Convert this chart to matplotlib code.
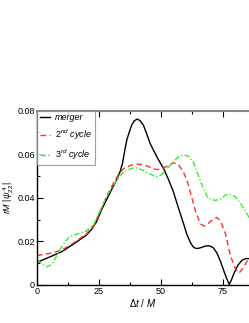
import numpy as np
import matplotlib
matplotlib.use("Agg")
import matplotlib.pyplot as plt
from matplotlib.ticker import MultipleLocator, FixedLocator, FixedFormatter

plt.rcParams['font.family'] = ['Liberation Sans', 'DejaVu Sans']
plt.rcParams['mathtext.fontset'] = 'custom'
plt.rcParams['mathtext.it'] = 'Liberation Sans:italic'
plt.rcParams['mathtext.rm'] = 'Liberation Sans'

# merger (black solid)
t_merger = [0, 5, 10, 15, 20, 22, 24, 26, 28, 30, 32, 33.5, 34.5, 35.4, 36.2,
            37.3, 38.2, 39.2, 40.4, 41.5, 42.9, 44.2, 45.6, 47, 48.3, 50, 51,
            53, 55, 57, 59, 60.5, 62, 63, 64, 65, 66.5, 68, 69.5, 71, 72.5, 74,
            75.5, 76.5, 77.5, 78.3, 79.5, 81, 82.5, 84, 86]
y_merger = [0.0104, 0.0128, 0.0153, 0.019, 0.023, 0.0255, 0.029, 0.0345, 0.039,
            0.0436, 0.048, 0.052, 0.056, 0.0618, 0.0665, 0.0705, 0.0734, 0.0753,
            0.0762, 0.0755, 0.0734, 0.0695, 0.065, 0.0618, 0.0589, 0.0555,
            0.0536, 0.0485, 0.0428, 0.0355, 0.0285, 0.023, 0.0192, 0.0175,
            0.0168, 0.0168, 0.0173, 0.0179, 0.018, 0.0172, 0.0148, 0.0108,
            0.006, 0.003, 0.0003, 0.002, 0.0055, 0.009, 0.0112, 0.0121, 0.0121]

# 2nd cycle (red dashed)
t_2nd = [0, 5, 10, 15, 20, 23, 25, 28, 30, 33, 35, 38, 40, 43, 45, 48, 50, 53,
         55, 57, 59, 60.5, 62, 64, 66, 67.5, 69, 71, 72.5, 74, 76, 78, 80,
         81.5, 83, 85, 86]
y_2nd = [0.0135, 0.0145, 0.016, 0.0195, 0.0235, 0.0275, 0.0325, 0.0405, 0.045,
         0.051, 0.0535, 0.055, 0.0555, 0.0552, 0.0543, 0.053, 0.0532, 0.0548,
         0.0561, 0.0553, 0.052, 0.048, 0.042, 0.0335, 0.028, 0.027, 0.0282,
         0.0302, 0.031, 0.0295, 0.0235, 0.0135, 0.0075, 0.0055, 0.0075, 0.0115,
         0.013]

# 3rd cycle (green dash-dot)
t_3rd = [0, 2, 4, 6, 8, 10, 13, 15, 17, 20, 23, 25, 28, 30, 33, 35, 38, 40, 43,
         45, 48, 50, 53, 55, 57, 59, 61, 63, 65, 67, 69, 72, 74, 76, 78, 80, 82,
         84, 86]
y_3rd = [0.0115, 0.0095, 0.0084, 0.0095, 0.0135, 0.0176, 0.0222, 0.023, 0.0237,
         0.0248, 0.028, 0.033, 0.0405, 0.0444, 0.0495, 0.052, 0.0535, 0.0538,
         0.0525, 0.0512, 0.0497, 0.0505, 0.054, 0.0566, 0.0588, 0.0597, 0.0592,
         0.0565, 0.0505, 0.0445, 0.0398, 0.0388, 0.0395, 0.0413, 0.0415, 0.0405,
         0.0375, 0.034, 0.030]

fig = plt.figure(figsize=(2.49, 3.23), dpi=100)
ax = fig.add_axes([37 / 249, 38 / 323, 1 - 37 / 249, 174.3 / 323])

ax.plot(t_merger, y_merger, color='black', lw=1.0, label='merger')
ax.plot(t_2nd, y_2nd, color='#ff3030', lw=1.0, ls=(0, (4, 2.5)),
        label=r'$2^{nd}$ cycle')
ax.plot(t_3rd, y_3rd, color='#33ee33', lw=1.0, ls=(0, (4, 1.5, 1, 1.5)),
        label=r'$3^{rd}$ cycle')

ax.set_xlim(0, 85.5)
ax.set_ylim(0, 0.08)
ax.xaxis.set_major_locator(FixedLocator([0, 25, 50, 75]))
ax.xaxis.set_minor_locator(MultipleLocator(12.5))
ax.yaxis.set_major_locator(FixedLocator([0, 0.02, 0.04, 0.06, 0.08]))
ax.yaxis.set_major_formatter(FixedFormatter(['0', '0.02', '0.04', '0.06', '0.08']))
ax.yaxis.set_minor_locator(MultipleLocator(0.01))
ax.tick_params(which='both', direction='in', top=True, right=False,
               labelsize=6.5, pad=1.5)
ax.tick_params(which='major', length=4, width=0.8)
ax.tick_params(which='minor', length=2.5, width=0.8)

ax.spines['right'].set_visible(False)
ax.spines['top'].set_color('#888888')
ax.spines['top'].set_linewidth(1.5)
for s in ['left', 'bottom']:
    ax.spines[s].set_linewidth(1.0)

ax.set_xlabel(r'$\Delta t\ /\ M$', fontsize=7, labelpad=1)
ax.set_ylabel(r'$rM\ |\psi^{\,4}_{22}|$', fontsize=6.5)
ax.yaxis.set_label_coords(-0.1, 0.5)

leg = ax.legend(loc='upper left', prop={'size': 6.5, 'style': 'italic'},
                frameon=True, fancybox=False, borderaxespad=0,
                handlelength=1.1, labelspacing=0.6, borderpad=0.3,
                handletextpad=0.6)
leg.get_frame().set_edgecolor('#888888')
leg.get_frame().set_linewidth(0.8)

fig.savefig('out.png', dpi=100)
